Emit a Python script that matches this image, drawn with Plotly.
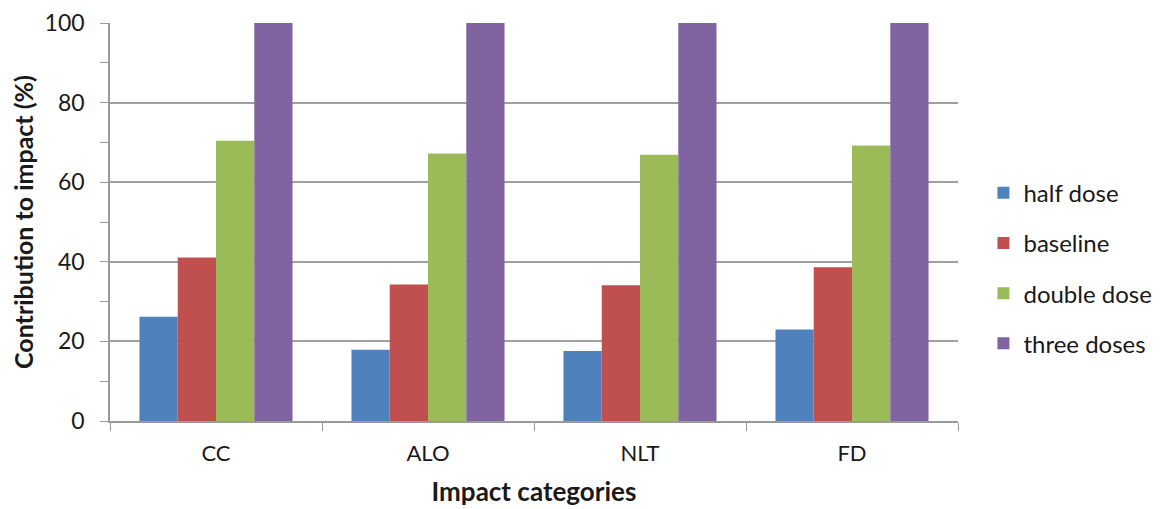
import plotly.graph_objects as go

categories = ["CC", "ALO", "NLT", "FD"]
half_dose = [26.2, 17.9, 17.6, 23.0]
baseline = [41.1, 34.3, 34.1, 38.6]
double_dose = [70.4, 67.2, 66.9, 69.2]
three_doses = [100, 100, 100, 100]

series = [
    ("half dose", half_dose, "#4F81BD"),
    ("baseline", baseline, "#C0504D"),
    ("double dose", double_dose, "#9BBB59"),
    ("three doses", three_doses, "#8064A2"),
]

FONT = "Lato, Carlito, Calibri, sans-serif"

fig = go.Figure()
for i, (name, vals, col) in enumerate(series):
    fig.add_trace(go.Bar(
        x=categories, y=vals, name=name, marker_color=col,
        marker_line_width=0, legendgroup=f"g{i}",
    ))

fig.update_layout(
    width=1161, height=509,
    margin=dict(l=102, r=211, t=15, b=96, autoexpand=False),
    paper_bgcolor="white", plot_bgcolor="white",
    barmode="group", bargap=0.278, bargroupgap=0,
    font=dict(family=FONT, size=22, color="#1a1a1a"),
    legend=dict(
        x=1.030, xanchor="left", y=0.384, yanchor="middle",
        font=dict(size=24, color="#1a1a1a"),
        tracegroupgap=16, itemwidth=30,
        bgcolor="rgba(0,0,0,0)",
    ),
    xaxis=dict(
        title=dict(text="<b>Impact categories</b>", font=dict(size=26), standoff=18),
        showline=True, linecolor="#9a9a9a", linewidth=1.5,
        ticks="outside", tickson="boundaries", ticklen=8, tickcolor="#9a9a9a",
        ticklabelstandoff=12,
        showgrid=False, tickfont=dict(size=22),
    ),
    yaxis=dict(
        title=dict(text="<b>Contribution to impact (%)</b>", font=dict(size=25), standoff=10),
        range=[0, 100], dtick=20, tick0=0,
        showline=True, linecolor="#9a9a9a", linewidth=1.5,
        ticks="outside", ticklen=8, tickcolor="#9a9a9a",
        ticklabelstandoff=11,
        showgrid=True, gridcolor="#a0a0a0", gridwidth=1.5,
        minor=dict(dtick=10, ticks="outside", ticklen=8, tickcolor="#9a9a9a", showgrid=False),
        zeroline=False, tickfont=dict(size=23),
    ),
)

fig.write_html("out.html")
